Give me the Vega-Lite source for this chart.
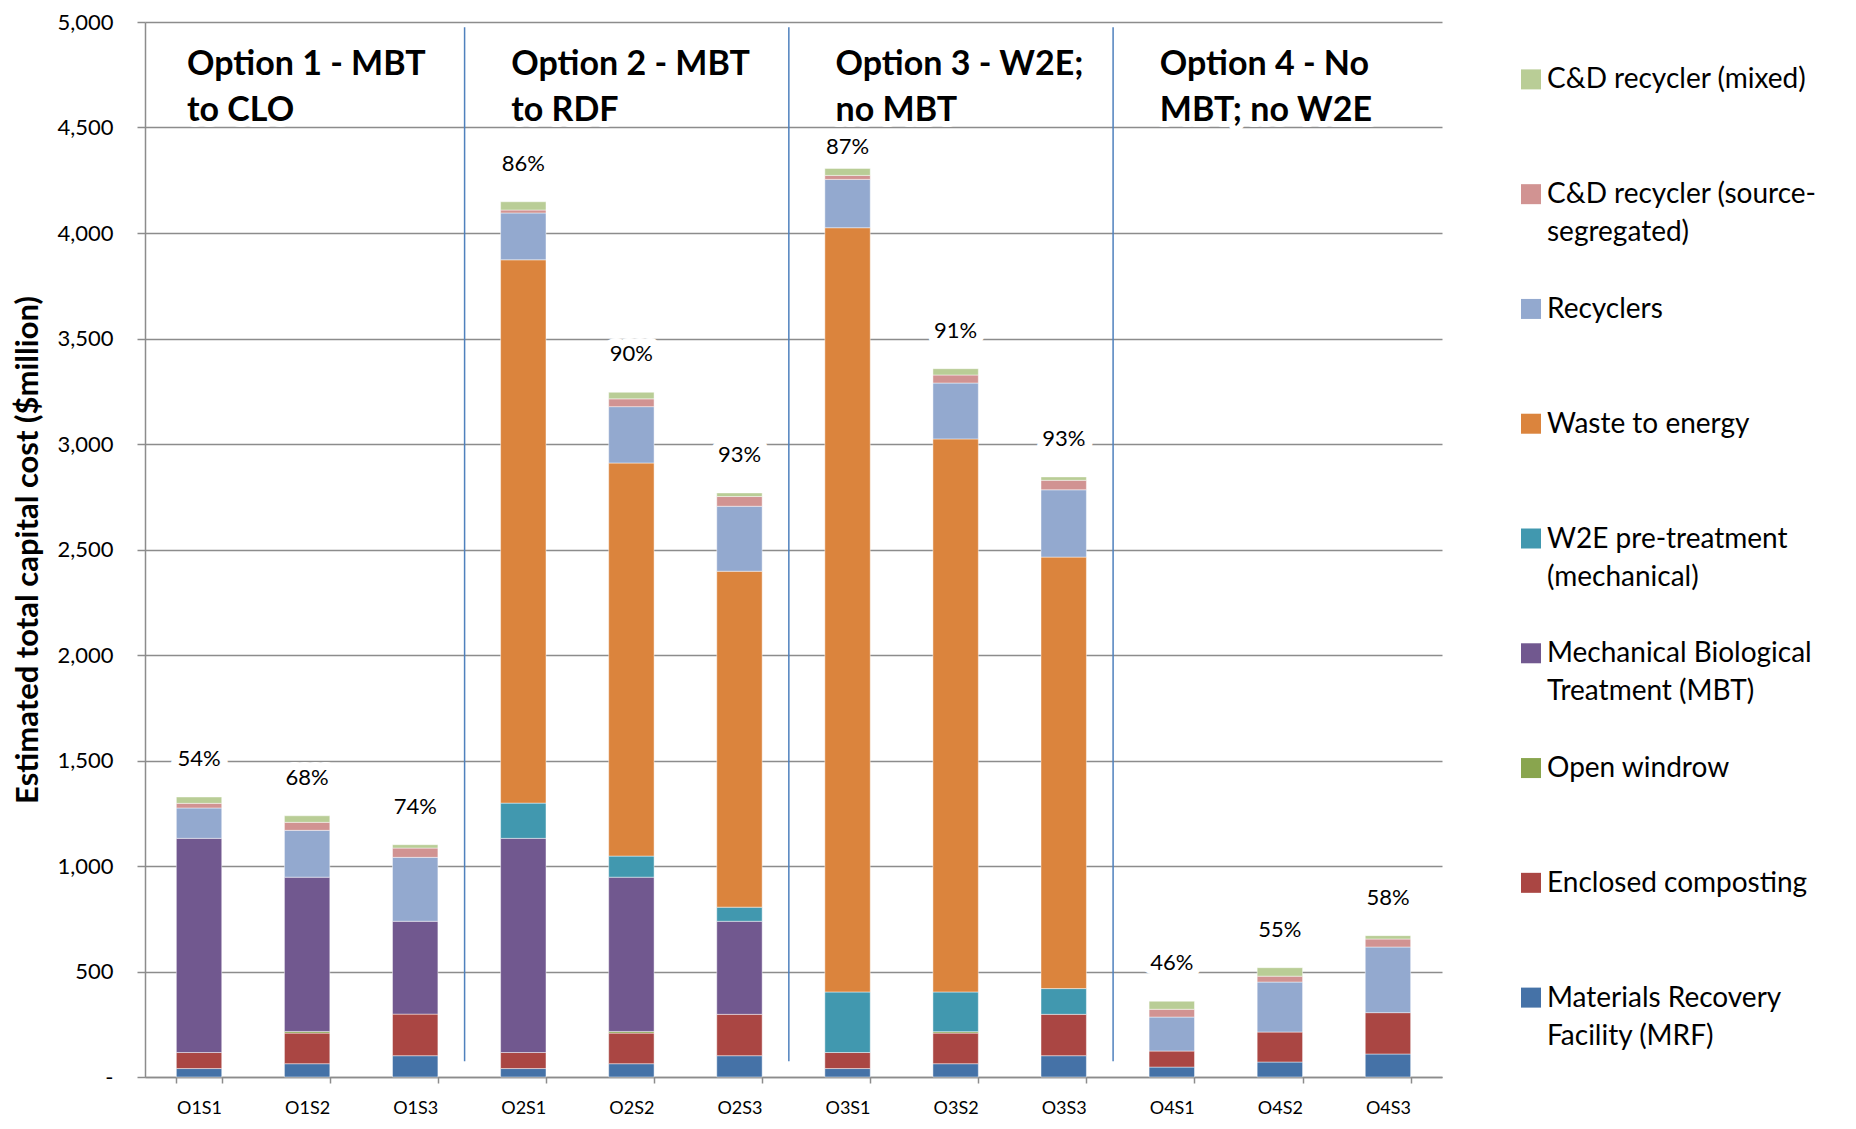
{
  "$schema": "https://vega.github.io/schema/vega-lite/v6.json",
  "background": "white",
  "padding": {"left": 12, "top": 11, "right": 0, "bottom": 0},
  "bounds": "flush",
  "spacing": 89,
  "config": {
    "view": {"stroke": null},
    "font": "Lato",
    "axis": {"labelFont": "Lato", "titleFont": "Lato"}
  },
  "datasets": {
    "costs": [
      {"scenario": "O1S1", "facility": "Materials Recovery Facility (MRF)", "cost": 40},
      {"scenario": "O1S1", "facility": "Enclosed composting", "cost": 76},
      {"scenario": "O1S1", "facility": "Mechanical Biological Treatment (MBT)", "cost": 1015},
      {"scenario": "O1S1", "facility": "Recyclers", "cost": 144},
      {"scenario": "O1S1", "facility": "C&D recycler (source-segregated)", "cost": 22},
      {"scenario": "O1S1", "facility": "C&D recycler (mixed)", "cost": 30},

      {"scenario": "O1S2", "facility": "Materials Recovery Facility (MRF)", "cost": 63},
      {"scenario": "O1S2", "facility": "Enclosed composting", "cost": 145},
      {"scenario": "O1S2", "facility": "Open windrow", "cost": 8},
      {"scenario": "O1S2", "facility": "Mechanical Biological Treatment (MBT)", "cost": 731},
      {"scenario": "O1S2", "facility": "Recyclers", "cost": 222},
      {"scenario": "O1S2", "facility": "C&D recycler (source-segregated)", "cost": 38},
      {"scenario": "O1S2", "facility": "C&D recycler (mixed)", "cost": 31},

      {"scenario": "O1S3", "facility": "Materials Recovery Facility (MRF)", "cost": 101},
      {"scenario": "O1S3", "facility": "Enclosed composting", "cost": 197},
      {"scenario": "O1S3", "facility": "Mechanical Biological Treatment (MBT)", "cost": 440},
      {"scenario": "O1S3", "facility": "Recyclers", "cost": 303},
      {"scenario": "O1S3", "facility": "C&D recycler (source-segregated)", "cost": 44},
      {"scenario": "O1S3", "facility": "C&D recycler (mixed)", "cost": 16},

      {"scenario": "O2S1", "facility": "Materials Recovery Facility (MRF)", "cost": 40},
      {"scenario": "O2S1", "facility": "Enclosed composting", "cost": 76},
      {"scenario": "O2S1", "facility": "Mechanical Biological Treatment (MBT)", "cost": 1015},
      {"scenario": "O2S1", "facility": "W2E pre-treatment (mechanical)", "cost": 167},
      {"scenario": "O2S1", "facility": "Waste to energy", "cost": 2575},
      {"scenario": "O2S1", "facility": "Recyclers", "cost": 222},
      {"scenario": "O2S1", "facility": "C&D recycler (source-segregated)", "cost": 14},
      {"scenario": "O2S1", "facility": "C&D recycler (mixed)", "cost": 39},

      {"scenario": "O2S2", "facility": "Materials Recovery Facility (MRF)", "cost": 63},
      {"scenario": "O2S2", "facility": "Enclosed composting", "cost": 145},
      {"scenario": "O2S2", "facility": "Open windrow", "cost": 8},
      {"scenario": "O2S2", "facility": "Mechanical Biological Treatment (MBT)", "cost": 731},
      {"scenario": "O2S2", "facility": "W2E pre-treatment (mechanical)", "cost": 100},
      {"scenario": "O2S2", "facility": "Waste to energy", "cost": 1863},
      {"scenario": "O2S2", "facility": "Recyclers", "cost": 267},
      {"scenario": "O2S2", "facility": "C&D recycler (source-segregated)", "cost": 37},
      {"scenario": "O2S2", "facility": "C&D recycler (mixed)", "cost": 31},

      {"scenario": "O2S3", "facility": "Materials Recovery Facility (MRF)", "cost": 101},
      {"scenario": "O2S3", "facility": "Enclosed composting", "cost": 196},
      {"scenario": "O2S3", "facility": "Mechanical Biological Treatment (MBT)", "cost": 441},
      {"scenario": "O2S3", "facility": "W2E pre-treatment (mechanical)", "cost": 67},
      {"scenario": "O2S3", "facility": "Waste to energy", "cost": 1592},
      {"scenario": "O2S3", "facility": "Recyclers", "cost": 308},
      {"scenario": "O2S3", "facility": "C&D recycler (source-segregated)", "cost": 46},
      {"scenario": "O2S3", "facility": "C&D recycler (mixed)", "cost": 17},

      {"scenario": "O3S1", "facility": "Materials Recovery Facility (MRF)", "cost": 40},
      {"scenario": "O3S1", "facility": "Enclosed composting", "cost": 76},
      {"scenario": "O3S1", "facility": "W2E pre-treatment (mechanical)", "cost": 287},
      {"scenario": "O3S1", "facility": "Waste to energy", "cost": 3622},
      {"scenario": "O3S1", "facility": "Recyclers", "cost": 229},
      {"scenario": "O3S1", "facility": "C&D recycler (source-segregated)", "cost": 19},
      {"scenario": "O3S1", "facility": "C&D recycler (mixed)", "cost": 33},

      {"scenario": "O3S2", "facility": "Materials Recovery Facility (MRF)", "cost": 63},
      {"scenario": "O3S2", "facility": "Enclosed composting", "cost": 145},
      {"scenario": "O3S2", "facility": "Open windrow", "cost": 7},
      {"scenario": "O3S2", "facility": "W2E pre-treatment (mechanical)", "cost": 188},
      {"scenario": "O3S2", "facility": "Waste to energy", "cost": 2621},
      {"scenario": "O3S2", "facility": "Recyclers", "cost": 265},
      {"scenario": "O3S2", "facility": "C&D recycler (source-segregated)", "cost": 38},
      {"scenario": "O3S2", "facility": "C&D recycler (mixed)", "cost": 30},

      {"scenario": "O3S3", "facility": "Materials Recovery Facility (MRF)", "cost": 101},
      {"scenario": "O3S3", "facility": "Enclosed composting", "cost": 196},
      {"scenario": "O3S3", "facility": "W2E pre-treatment (mechanical)", "cost": 122},
      {"scenario": "O3S3", "facility": "Waste to energy", "cost": 2045},
      {"scenario": "O3S3", "facility": "Recyclers", "cost": 319},
      {"scenario": "O3S3", "facility": "C&D recycler (source-segregated)", "cost": 45},
      {"scenario": "O3S3", "facility": "C&D recycler (mixed)", "cost": 16},

      {"scenario": "O4S1", "facility": "Materials Recovery Facility (MRF)", "cost": 47},
      {"scenario": "O4S1", "facility": "Enclosed composting", "cost": 76},
      {"scenario": "O4S1", "facility": "Recyclers", "cost": 161},
      {"scenario": "O4S1", "facility": "C&D recycler (source-segregated)", "cost": 37},
      {"scenario": "O4S1", "facility": "C&D recycler (mixed)", "cost": 38},

      {"scenario": "O4S2", "facility": "Materials Recovery Facility (MRF)", "cost": 71},
      {"scenario": "O4S2", "facility": "Enclosed composting", "cost": 142},
      {"scenario": "O4S2", "facility": "Recyclers", "cost": 237},
      {"scenario": "O4S2", "facility": "C&D recycler (source-segregated)", "cost": 28},
      {"scenario": "O4S2", "facility": "C&D recycler (mixed)", "cost": 40},

      {"scenario": "O4S3", "facility": "Materials Recovery Facility (MRF)", "cost": 109},
      {"scenario": "O4S3", "facility": "Enclosed composting", "cost": 196},
      {"scenario": "O4S3", "facility": "Recyclers", "cost": 311},
      {"scenario": "O4S3", "facility": "C&D recycler (source-segregated)", "cost": 38},
      {"scenario": "O4S3", "facility": "C&D recycler (mixed)", "cost": 16}
    ],
    "shares": [
      {"scenario": "O1S1", "share": "54%"},
      {"scenario": "O1S2", "share": "68%"},
      {"scenario": "O1S3", "share": "74%"},
      {"scenario": "O2S1", "share": "86%"},
      {"scenario": "O2S2", "share": "90%"},
      {"scenario": "O2S3", "share": "93%"},
      {"scenario": "O3S1", "share": "87%"},
      {"scenario": "O3S2", "share": "91%"},
      {"scenario": "O3S3", "share": "93%"},
      {"scenario": "O4S1", "share": "46%"},
      {"scenario": "O4S2", "share": "55%"},
      {"scenario": "O4S3", "share": "58%"}
    ],
    "options": [
      {"scenario": "O1S1", "heading": "Option 1 - MBT\nto CLO"},
      {"scenario": "O2S1", "heading": "Option 2 - MBT\nto RDF"},
      {"scenario": "O3S1", "heading": "Option 3 - W2E;\nno MBT"},
      {"scenario": "O4S1", "heading": "Option 4 - No\nMBT; no W2E"}
    ],
    "dividers": [
      {"scenario": "O2S1"},
      {"scenario": "O3S1"},
      {"scenario": "O4S1"}
    ],
    "legendItems": [
      {"facility": "C&D recycler (mixed)", "label": "C&D recycler (mixed)"},
      {"facility": "C&D recycler (source-segregated)", "label": "C&D recycler (source-\nsegregated)"},
      {"facility": "Recyclers", "label": "Recyclers"},
      {"facility": "Waste to energy", "label": "Waste to energy"},
      {"facility": "W2E pre-treatment (mechanical)", "label": "W2E pre-treatment\n(mechanical)"},
      {"facility": "Mechanical Biological Treatment (MBT)", "label": "Mechanical Biological\nTreatment (MBT)"},
      {"facility": "Open windrow", "label": "Open windrow"},
      {"facility": "Enclosed composting", "label": "Enclosed composting"},
      {"facility": "Materials Recovery Facility (MRF)", "label": "Materials Recovery\nFacility (MRF)"}
    ]
  },
  "hconcat": [
    {
      "width": 1297,
      "height": 1055,
      "layer": [
        {
          "data": {"name": "costs"},
          "transform": [
            {"calculate": "indexof(['Materials Recovery Facility (MRF)','Enclosed composting','Open windrow','Mechanical Biological Treatment (MBT)','W2E pre-treatment (mechanical)','Waste to energy','Recyclers','C&D recycler (source-segregated)','C&D recycler (mixed)'], datum.facility)", "as": "stack_rank"}
          ],
          "mark": {"type": "bar", "stroke": "#ffffff", "strokeWidth": 1, "strokeOpacity": 0.45},
          "encoding": {
            "x": {
              "field": "scenario", "type": "nominal", "title": null,
              "scale": {
                "domain": ["O1S1","O1S2","O1S3","O2S1","O2S2","O2S3","O3S1","O3S2","O3S3","O4S1","O4S2","O4S3"],
                "paddingInner": 0.58, "paddingOuter": 0.29
              },
              "axis": {
                "title": null, "labelAngle": 0, "labelFontSize": 18, "labelColor": "#000000",
                "labelPadding": 16, "tickBand": "extent", "tickSize": 6, "tickColor": "#8c8c8c",
                "tickWidth": 1.5, "domainColor": "#8c8c8c", "domainWidth": 1.5, "grid": false
              }
            },
            "y": {
              "field": "cost", "type": "quantitative",
              "title": "Estimated total capital cost ($million)",
              "scale": {"domain": [0, 5000], "nice": false},
              "axis": {
                "title": "Estimated total capital cost ($million)",
                "titleFontSize": 31, "titleFontWeight": "bold", "titleColor": "#000000", "titlePadding": 12,
                "values": [0, 500, 1000, 1500, 2000, 2500, 3000, 3500, 4000, 4500, 5000],
                "labelExpr": "datum.value == 0 ? '-' : format(datum.value, ',')",
                "labelFontSize": 22, "labelColor": "#000000", "labelPadding": 24,
                "tickSize": 8, "tickColor": "#8c8c8c", "tickWidth": 1.5,
                "domainColor": "#8c8c8c", "domainWidth": 1.5,
                "grid": true, "gridColor": "#8c8c8c", "gridWidth": 1.5
              }
            },
            "color": {
              "field": "facility", "type": "nominal",
              "scale": {
                "domain": ["Materials Recovery Facility (MRF)","Enclosed composting","Open windrow","Mechanical Biological Treatment (MBT)","W2E pre-treatment (mechanical)","Waste to energy","Recyclers","C&D recycler (source-segregated)","C&D recycler (mixed)"],
                "range": ["#4572A7","#AA4643","#89A54E","#71588F","#4198AF","#DB843D","#93A9CF","#D19392","#B9CD96"]
              },
              "legend": null
            },
            "order": {"field": "stack_rank", "type": "quantitative"}
          }
        },
        {
          "data": {"name": "options"},
          "mark": {"type": "text", "fontSize": 34, "fontWeight": "bold", "align": "left", "baseline": "top", "dx": -12, "dy": 26, "lineBreak": "\n", "lineHeight": 46, "stroke": "#ffffff", "strokeWidth": 12, "strokeJoin": "round", "fill": "#ffffff"},
          "encoding": {
            "x": {"field": "scenario", "type": "nominal", "title": null},
            "y": {"datum": 5000, "type": "quantitative", "title": "Estimated total capital cost ($million)"},
            "text": {"field": "heading"}
          }
        },
        {
          "data": {"name": "costs"},
          "transform": [
            {"aggregate": [{"op": "sum", "field": "cost", "as": "total"}], "groupby": ["scenario"]},
            {"lookup": "scenario", "from": {"data": {"name": "shares"}, "key": "scenario", "fields": ["share"]}}
          ],
          "mark": {"type": "text", "fontSize": 22, "baseline": "middle", "dy": {"expr": "datum.total > 4200 ? -21 : -38"}, "stroke": "#ffffff", "strokeWidth": 16, "strokeJoin": "round", "fill": "#ffffff"},
          "encoding": {
            "x": {"field": "scenario", "type": "nominal", "title": null},
            "y": {"field": "total", "type": "quantitative", "title": "Estimated total capital cost ($million)"},
            "text": {"field": "share"}
          }
        },
        {
          "data": {"name": "options"},
          "mark": {"type": "text", "fontSize": 34, "fontWeight": "bold", "align": "left", "baseline": "top", "dx": -12, "dy": 26, "lineBreak": "\n", "lineHeight": 46, "color": "#000000"},
          "encoding": {
            "x": {"field": "scenario", "type": "nominal", "title": null},
            "y": {"datum": 5000, "type": "quantitative", "title": "Estimated total capital cost ($million)"},
            "text": {"field": "heading"}
          }
        },
        {
          "data": {"name": "costs"},
          "transform": [
            {"aggregate": [{"op": "sum", "field": "cost", "as": "total"}], "groupby": ["scenario"]},
            {"lookup": "scenario", "from": {"data": {"name": "shares"}, "key": "scenario", "fields": ["share"]}}
          ],
          "mark": {"type": "text", "fontSize": 22, "baseline": "middle", "dy": {"expr": "datum.total > 4200 ? -21 : -38"}, "color": "#000000"},
          "encoding": {
            "x": {"field": "scenario", "type": "nominal", "title": null},
            "y": {"field": "total", "type": "quantitative", "title": "Estimated total capital cost ($million)"},
            "text": {"field": "share"}
          }
        },
        {
          "data": {"name": "dividers"},
          "mark": {"type": "rule", "color": "#4F81BD", "strokeWidth": 1.5, "xOffset": -36},
          "encoding": {
            "x": {"field": "scenario", "type": "nominal", "bandPosition": 0, "title": null},
            "y": {"datum": 4975, "type": "quantitative", "title": "Estimated total capital cost ($million)"},
            "y2": {"datum": 75}
          }
        }
      ]
    },
    {
      "width": 320,
      "height": 1033,
      "data": {"name": "legendItems"},
      "layer": [
        {
          "mark": {"type": "square", "size": 400, "opacity": 1, "filled": true},
          "encoding": {
            "x": {"datum": 0, "type": "quantitative", "scale": {"domain": [0, 1]}, "axis": null},
            "y": {
              "field": "facility", "type": "nominal",
              "scale": {"type": "point", "padding": 0.5,
                "domain": ["C&D recycler (mixed)","C&D recycler (source-segregated)","Recyclers","Waste to energy","W2E pre-treatment (mechanical)","Mechanical Biological Treatment (MBT)","Open windrow","Enclosed composting","Materials Recovery Facility (MRF)"]},
              "axis": null
            },
            "color": {"field": "facility", "type": "nominal", "legend": null}
          }
        },
        {
          "mark": {"type": "text", "fontSize": 28, "align": "left", "baseline": "top", "dx": 16, "dy": -13, "lineBreak": "\n", "lineHeight": 38, "color": "#000000"},
          "encoding": {
            "x": {"datum": 0, "type": "quantitative", "axis": null},
            "y": {"field": "facility", "type": "nominal", "axis": null},
            "text": {"field": "label"}
          }
        }
      ]
    }
  ]
}
